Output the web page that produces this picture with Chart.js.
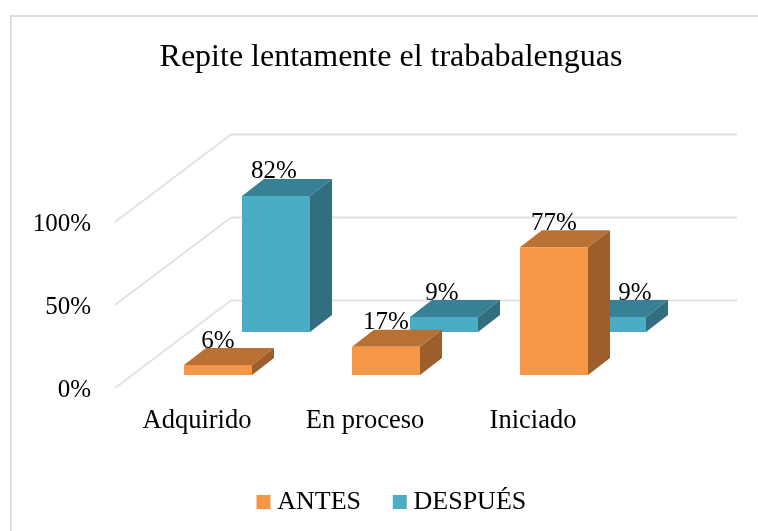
<!DOCTYPE html>
<html><head><meta charset="utf-8">
<style>html,body{margin:0;padding:0;background:#fff;overflow:hidden;width:758px;height:531px}
#w{position:absolute;left:0;top:0;width:782px;height:531px}</style>
<script src="https://cdn.jsdelivr.net/npm/chart.js@4/dist/chart.umd.min.js"></script>
</head><body><div id="w"><canvas id="c" width="782" height="531"></canvas></div>
<script>
const categories = ["Adquirido", "En proceso", "Iniciado"];
const antes = [6, 17, 77];
const despues = [82, 9, 9];
const yTicks = [0, 50, 100];
const titleText = "Repite lentamente el trababalenguas";

const FONT = "'Liberation Serif'";
const palette = [
  {front:"#F79646", top:"#B97035", side:"#9C5E2B", shift:[0,-13], labelDx:0},
  {front:"#4BACC6", top:"#388194", side:"#316F80", shift:[58,-56], labelDx:-2}
];
const depth = [22,-17];

const threeD = {
  id:"threeD",
  afterLayout(ch){ ch.legend.left += 3.5; ch.legend.right += 3.5; },
  beforeDraw(ch){
    const c = ch.ctx; c.save();
    c.strokeStyle="#dcdcdc"; c.lineWidth=2;
    c.strokeRect(11,16,820,600);
    c.restore();
  },
  beforeDatasetsDraw(ch){
    const c = ch.ctx, y = ch.scales.y;
    c.save(); c.strokeStyle="#e2e2e2"; c.lineWidth=2;
    y.ticks.forEach(t=>{
      const p = y.getPixelForValue(t.value);
      c.beginPath();
      c.moveTo(115,p); c.lineTo(231,p-87.5); c.lineTo(737,p-87.5);
      c.stroke();
    });
    c.restore();
  },
  beforeDatasetDraw(ch,a){
    const c = ch.ctx, s = palette[a.index];
    c.save(); c.translate(s.shift[0],s.shift[1]);
    a.meta.data.forEach(b=>{
      const l=b.x-b.width/2, r=b.x+b.width/2, t=b.y, base=b.base;
      c.fillStyle=s.top; c.beginPath();
      c.moveTo(l,t); c.lineTo(l+depth[0],t+depth[1]); c.lineTo(r+depth[0],t+depth[1]); c.lineTo(r,t); c.closePath(); c.fill();
      c.fillStyle=s.side; c.beginPath();
      c.moveTo(r,t); c.lineTo(r+depth[0],t+depth[1]); c.lineTo(r+depth[0],base+depth[1]); c.lineTo(r,base); c.closePath(); c.fill();
    });
  },
  afterDatasetDraw(ch){ ch.ctx.restore(); },
  afterDatasetsDraw(ch){
    const c = ch.ctx; c.save();
    c.fillStyle="#000"; c.font="25px "+FONT; c.textAlign="center"; c.textBaseline="middle";
    ch.data.datasets.forEach((d,i)=>{
      const s = palette[i];
      ch.getDatasetMeta(i).data.forEach((b,j)=>{
        const extra = (i===1 && j===2) ? 23 : s.labelDx;
        c.fillText(d.data[j]+"%", b.x+s.shift[0]+extra, b.y+s.shift[1]-24);
      });
    });
    c.restore();
  }
};

new Chart(document.getElementById("c"),{
  type:"bar",
  data:{labels:categories,datasets:[
    {label:"ANTES",data:antes,backgroundColor:palette[0].front,clip:false},
    {label:"DESPUÉS",data:despues,backgroundColor:palette[1].front,clip:false}
  ]},
  plugins:[threeD],
  options:{
    responsive:false,animation:false,
    layout:{padding:{left:0,right:0,top:0,bottom:6}},
    datasets:{bar:{grouped:false,categoryPercentage:1,barPercentage:68/168,borderWidth:0}},
    plugins:{
      tooltip:{enabled:false},
      title:{display:true,text:titleText,color:"#000",font:{family:FONT,size:32,weight:"normal"},padding:{top:38,bottom:145.6}},
      legend:{position:"bottom",labels:{usePointStyle:true,pointStyle:"rect",boxWidth:1.5,boxHeight:14,color:"#000",padding:38,font:{family:FONT,size:26}}}
    },
    scales:{
      x:{grid:{display:false},border:{display:false},
         afterFit(s){s.height=531-6-388-s.chart.legend.height;},
         ticks:{color:"#000",font:{family:FONT,size:26.5},padding:9,labelOffset:-21,maxRotation:0,autoSkip:false}},
      y:{min:0,max:100,grid:{display:false},border:{display:false},
         afterFit(s){s.width=134;},
         afterBuildTicks(s){s.ticks=yTicks.map(v=>({value:v}));},
         ticks:{color:"#000",font:{family:FONT,size:25,lineHeight:0.16},padding:35,callback:v=>["",v+"%"]}},
      spacer:{position:"right",min:0,max:1,grid:{display:false},border:{display:false},
         afterFit(s){s.width=144;},
         ticks:{display:false}}
    }
  }
});
</script></body></html>
